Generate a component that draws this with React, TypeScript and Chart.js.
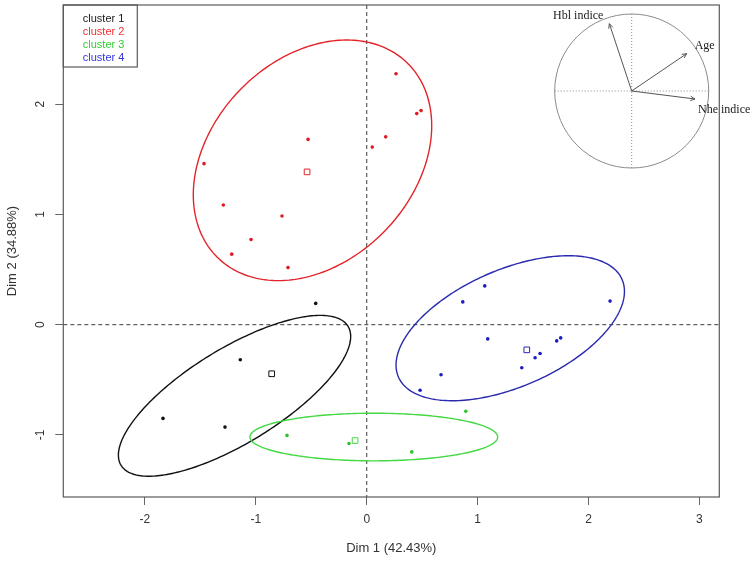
import React, { useEffect, useRef } from "react";
import { Chart, registerables } from "chart.js";

Chart.register(...registerables);

// ---------- data ----------
const clusterNames = ["cluster 1", "cluster 2", "cluster 3", "cluster 4"];
const pointColors = ["#111111", "#e01a22", "#2cc42c", "#1c1cc0"];
const lineColors = ["#111111", "#e3242b", "#44d844", "#2a2aae"];
const legendColors = ["#1a1a1a", "#f03030", "#33cc33", "#3535e0"];

const c1x = [-0.46, -1.14, -1.837, -1.278];
const c1y = [0.193, -0.318, -0.85, -0.929];
const c2x = [-1.467, -0.529, -1.293, -0.764, -1.043, -1.217, -0.71, 0.05, 0.171, 0.264, 0.451, 0.49];
const c2y = [1.461, 1.681, 1.086, 0.986, 0.773, 0.64, 0.518, 1.611, 1.704, 2.276, 1.915, 1.942];
const c3x = [-0.719, -0.16, 0.406, 0.893];
const c3y = [-1.004, -1.078, -1.154, -0.785];
const c4x = [1.064, 0.866, 2.194, 1.091, 1.713, 1.749, 1.563, 1.518, 1.398, 0.67, 0.481];
const c4y = [0.352, 0.207, 0.214, -0.129, -0.147, -0.12, -0.261, -0.3, -0.39, -0.454, -0.595];

const centerX = [-0.857, -0.538, -0.105, 1.443];
const centerY = [-0.445, 1.386, -1.051, -0.228];

const ellCx = [-1.192, -0.489, 0.064, 1.294];
const ellCy = [-0.645, 1.491, -1.019, -0.032];
const ellA = [1.202, 1.229, 1.117, 1.101];
const ellB = [0.429, 0.914, 0.216, 0.53];
const ellAngle = [31.7, 46.5, 0, 23.8];

const xTicks = [-2, -1, 0, 1, 2, 3];
const yTicks = [-1, 0, 1, 2];
const xLimits = [-2.736, 3.179];
const yLimits = [-1.563, 2.9];

const varNames = ["Hbl indice", "Age", "Nhe indice"];
const varDim1 = [-0.29, 0.714, 0.822];
const varDim2 = [0.874, 0.485, -0.104];

// ---------- styles ----------
const SANS = "'Liberation Sans', Arial, sans-serif";
const SERIF = "'Liberation Serif', 'Times New Roman', serif";
const labelOffsets = [
  { dx: -6, dy: -4.5, align: "right" },
  { dx: 8, dy: -5, align: "left" },
  { dx: 3, dy: 13.5, align: "left" },
];

const zip = (xs: number[], ys: number[]) => xs.map((v, i) => ({ x: v, y: ys[i] }));

const overlayPlugin = {
  id: "overlay",
  beforeDatasetsDraw(chart: any) {
    const { ctx, chartArea: ca, scales } = chart;
    const xs = scales.x;
    const ys = scales.y;
    ctx.save();
    // dashed zero lines
    ctx.strokeStyle = "#3a3a3a";
    ctx.lineWidth = 1;
    ctx.setLineDash([4, 3]);
    const x0 = xs.getPixelForValue(0);
    const y0 = ys.getPixelForValue(0);
    ctx.beginPath();
    ctx.moveTo(x0, ca.top);
    ctx.lineTo(x0, ca.bottom);
    ctx.moveTo(ca.left, y0);
    ctx.lineTo(ca.right, y0);
    ctx.stroke();
    ctx.setLineDash([]);
    // ellipses
    for (let k = 0; k < ellCx.length; k++) {
      const th = (ellAngle[k] * Math.PI) / 180;
      const ct = Math.cos(th);
      const st = Math.sin(th);
      ctx.beginPath();
      for (let i = 0; i <= 240; i++) {
        const t = (i / 240) * Math.PI * 2;
        const ex = ellCx[k] + ellA[k] * ct * Math.cos(t) - ellB[k] * st * Math.sin(t);
        const ey = ellCy[k] + ellA[k] * st * Math.cos(t) + ellB[k] * ct * Math.sin(t);
        const px = xs.getPixelForValue(ex);
        const py = ys.getPixelForValue(ey);
        if (i === 0) ctx.moveTo(px, py);
        else ctx.lineTo(px, py);
      }
      ctx.closePath();
      ctx.strokeStyle = lineColors[k];
      ctx.lineWidth = 1.4;
      ctx.stroke();
    }
    ctx.restore();
  },
  afterDraw(chart: any) {
    const { ctx, chartArea: ca } = chart;
    ctx.save();
    // box
    ctx.strokeStyle = "#5a5a5a";
    ctx.lineWidth = 1.2;
    ctx.strokeRect(ca.left, ca.top, ca.right - ca.left, ca.bottom - ca.top);
    // legend
    ctx.strokeRect(ca.left, ca.top, 74, 62);
    ctx.font = `11px ${SANS}`;
    ctx.textAlign = "left";
    ctx.textBaseline = "middle";
    clusterNames.forEach((n, i) => {
      ctx.fillStyle = legendColors[i];
      ctx.fillText(n, ca.left + 19.5, ca.top + 13.5 + i * 13);
    });
    // correlation circle inset
    const cx = ca.right - 87.6;
    const cy = ca.top + 86;
    const R = 77;
    ctx.strokeStyle = "#8a8a8a";
    ctx.lineWidth = 1;
    ctx.beginPath();
    ctx.arc(cx, cy, R, 0, Math.PI * 2);
    ctx.stroke();
    ctx.setLineDash([1, 2]);
    ctx.strokeStyle = "#8a8a8a";
    ctx.beginPath();
    ctx.moveTo(cx, cy - R);
    ctx.lineTo(cx, cy + R);
    ctx.moveTo(cx - R, cy);
    ctx.lineTo(cx + R, cy);
    ctx.stroke();
    ctx.setLineDash([]);
    ctx.strokeStyle = "#555555";
    ctx.fillStyle = "#1a1a1a";
    ctx.font = `12px ${SERIF}`;
    ctx.textBaseline = "alphabetic";
    for (let i = 0; i < varNames.length; i++) {
      const tx = cx + varDim1[i] * R;
      const ty = cy - varDim2[i] * R;
      ctx.beginPath();
      ctx.moveTo(cx, cy);
      ctx.lineTo(tx, ty);
      const ang = Math.atan2(ty - cy, tx - cx);
      const h = 5;
      ctx.moveTo(tx, ty);
      ctx.lineTo(tx - h * Math.cos(ang - 0.45), ty - h * Math.sin(ang - 0.45));
      ctx.moveTo(tx, ty);
      ctx.lineTo(tx - h * Math.cos(ang + 0.45), ty - h * Math.sin(ang + 0.45));
      ctx.stroke();
      const o = labelOffsets[i];
      ctx.textAlign = o.align as CanvasTextAlign;
      ctx.fillText(varNames[i], tx + o.dx, ty + o.dy);
    }
    ctx.restore();
  },
};

export default function App() {
  const ref = useRef<HTMLCanvasElement | null>(null);
  useEffect(() => {
    if (!ref.current) return;
    const seriesX = [c1x, c2x, c3x, c4x];
    const seriesY = [c1y, c2y, c3y, c4y];
    const datasets: any[] = seriesX.map((xs, k) => ({
      label: clusterNames[k],
      data: zip(xs, seriesY[k]),
      pointStyle: "circle",
      pointRadius: 1.8,
      pointBorderWidth: 0,
      backgroundColor: pointColors[k],
      borderColor: pointColors[k],
    }));
    datasets.push({
      label: "centres",
      data: zip(centerX, centerY),
      pointStyle: "rect",
      pointRadius: 4,
      pointBorderWidth: 1,
      backgroundColor: "rgba(0,0,0,0)",
      borderColor: lineColors,
      pointBorderColor: lineColors,
    });
    const chart = new Chart(ref.current, {
      type: "scatter",
      data: { datasets },
      options: {
        animation: false,
        responsive: true,
        maintainAspectRatio: false,
        layout: { padding: { top: 3, right: 34.7, left: 0, bottom: 0 } },
        plugins: { legend: { display: false }, tooltip: { enabled: false } },
        scales: {
          x: {
            type: "linear",
            min: xLimits[0],
            max: xLimits[1],
            afterFit: (s: any) => {
              s.height = 66;
              s.paddingLeft = 0;
              s.paddingRight = 0;
            },
            afterBuildTicks: (s: any) => {
              s.ticks = xTicks.map((v) => ({ value: v }));
            },
            ticks: { font: { family: SANS, size: 12 }, color: "#333333", padding: 7, maxRotation: 0 },
            grid: { drawOnChartArea: false, drawTicks: true, tickLength: 8, color: "#666666" },
            border: { display: false },
            title: {
              display: true,
              text: "Dim 1 (42.43%)",
              font: { family: SANS, size: 13 },
              color: "#333333",
              padding: { top: 0, bottom: 7 },
            },
          },
          y: {
            type: "linear",
            min: yLimits[0],
            max: yLimits[1],
            afterFit: (s: any) => {
              s.width = 63.3;
              s.paddingTop = 0;
              s.paddingBottom = 0;
            },
            afterBuildTicks: (s: any) => {
              s.ticks = yTicks.map((v) => ({ value: v }));
            },
            ticks: {
              font: { family: SANS, size: 12 },
              color: "#333333",
              padding: 9,
              minRotation: 90,
              maxRotation: 90,
              crossAlign: "center",
            },
            grid: { drawOnChartArea: false, drawTicks: true, tickLength: 8, color: "#666666" },
            border: { display: false },
            title: {
              display: true,
              text: "Dim 2 (34.88%)",
              font: { family: SANS, size: 13 },
              color: "#333333",
              padding: { top: 5, bottom: 0 },
            },
          },
        },
      },
      plugins: [overlayPlugin],
    } as any);
    return () => chart.destroy();
  }, []);
  return (
    <div style={{ position: "absolute", left: 0, top: 0, width: 754, height: 563, background: "#fff" }}>
      <canvas ref={ref} />
    </div>
  );
}
